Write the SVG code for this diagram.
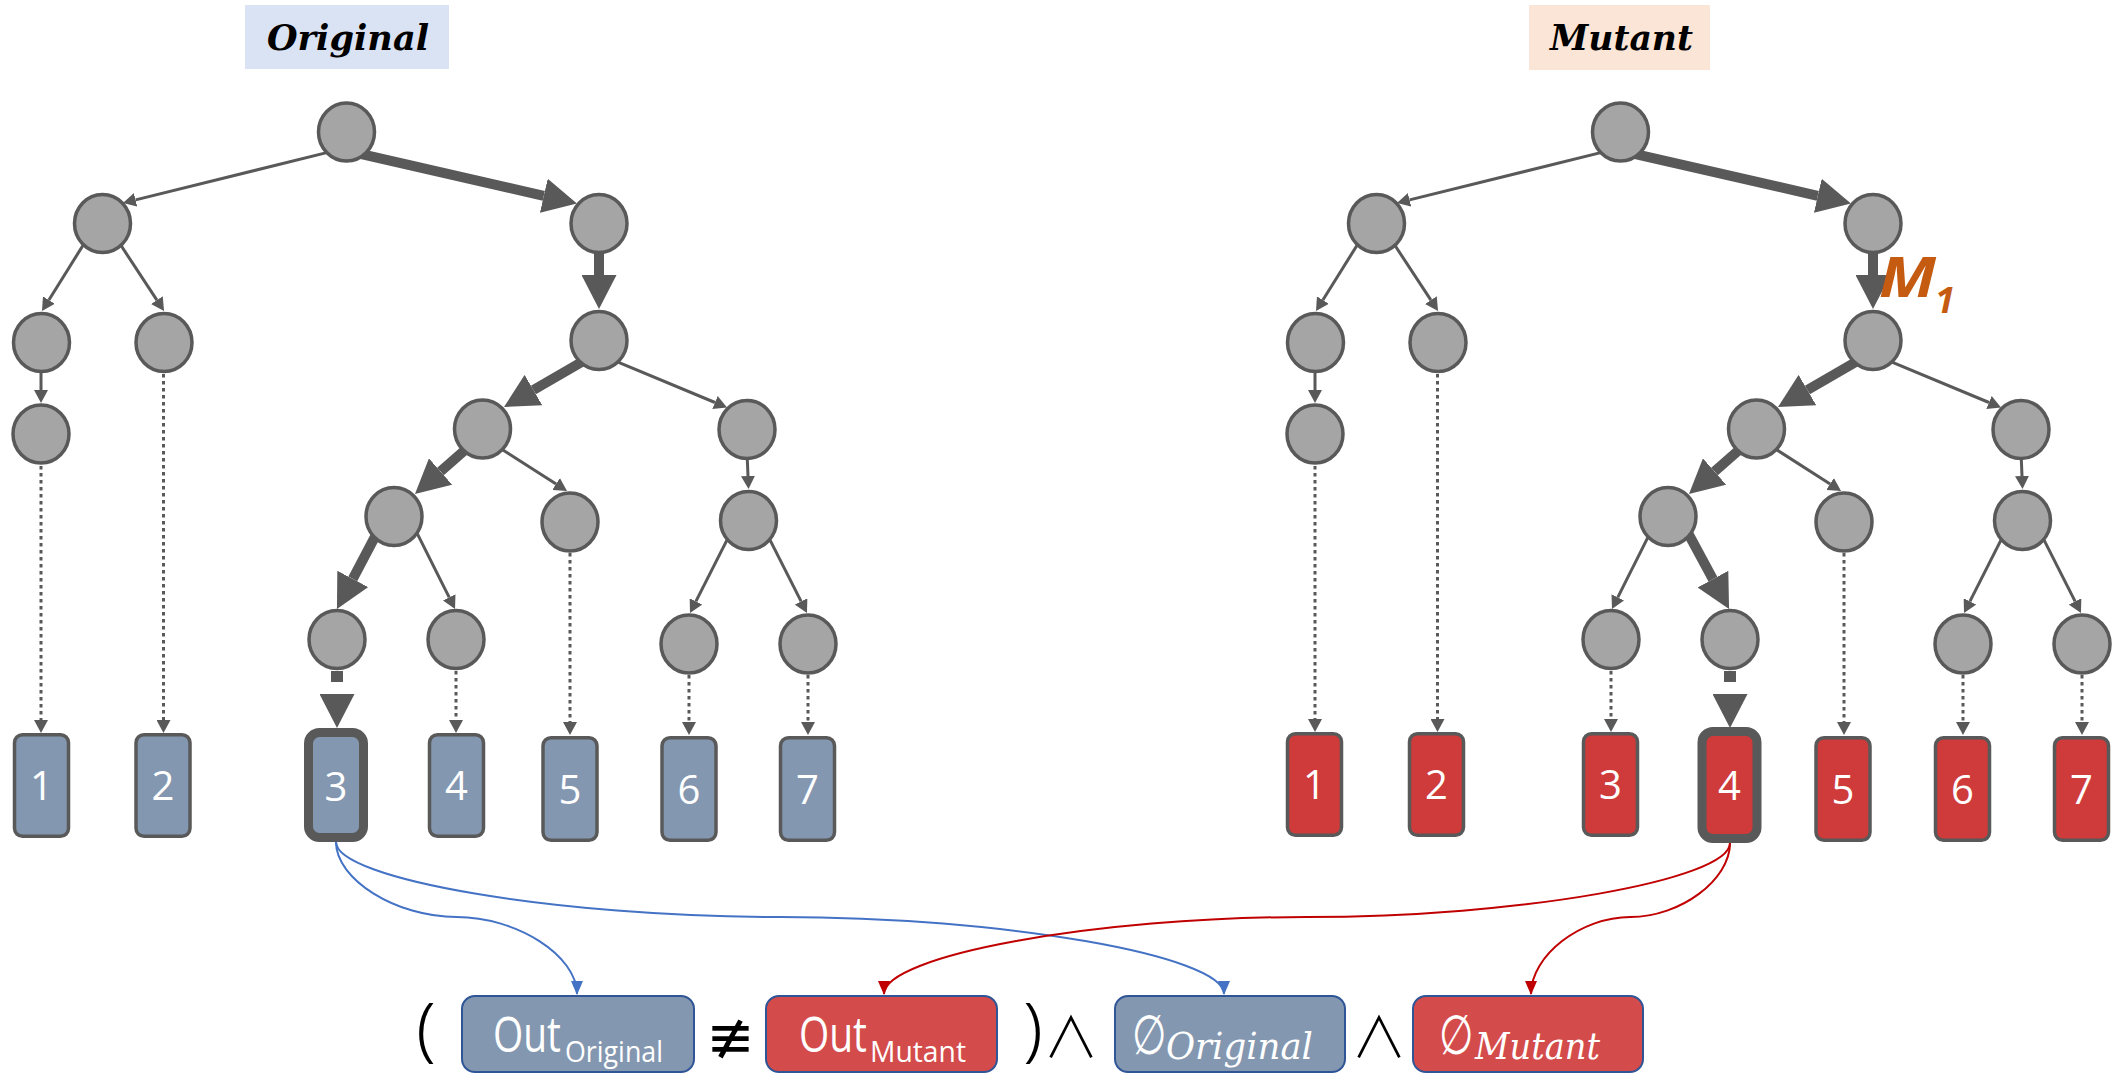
<svg xmlns="http://www.w3.org/2000/svg" width="2115" height="1077" viewBox="0 0 2115 1077">
  <defs>
    <style>
      .node ellipse { fill: #A5A5A5; stroke: #595959; stroke-width: 3.5; }
      .leaf rect { stroke: #595959; stroke-width: 3.5; }
      .leaf.orig rect { fill: #8497B0; }
      .leaf.mut rect { fill: #CF3B3B; }
      .leaf.sel rect { stroke-width: 9; }
      .leaf text { font-family: "Open Sans", "Noto Sans", sans-serif; font-size: 40px; fill: #FFFFFF; text-anchor: middle; }
      .thin { fill: none; stroke: #595959; stroke-width: 3; marker-end: url(#ah); }
      .dot { fill: none; stroke: #595959; stroke-width: 3; stroke-dasharray: 3.5 3.5; marker-end: url(#ah); }
      .thick { fill: none; stroke: #595959; stroke-width: 10; marker-end: url(#ahT); }
      .tdash { fill: none; stroke: #595959; stroke-width: 12; stroke-dasharray: 11 12; marker-end: url(#ahT); }
      .cblue { fill: none; stroke: #4472C4; stroke-width: 2; marker-end: url(#ahB); }
      .cred { fill: none; stroke: #C00000; stroke-width: 2; marker-end: url(#ahR); }
      .title { font-family: "DejaVu Serif", "Liberation Serif", serif; font-weight: bold; font-style: italic; font-size: 36px; fill: #000000; }
      .box rect { stroke: #2F5597; stroke-width: 2; }
      .box.orig rect { fill: #8497B0; }
      .box.mut rect { fill: #D44B4B; }
      .sans { font-family: "Open Sans", "Noto Sans", sans-serif; fill: #FFFFFF; }
      .ital { font-family: "DejaVu Serif", "Liberation Serif", serif; font-style: italic; fill: #FFFFFF; }
      .empty { font-family: "DejaVu Sans", sans-serif; font-size: 55px; fill: #FFFFFF; }
      .op { font-family: "DejaVu Sans", sans-serif; fill: #000000; text-anchor: middle; }
      .and { font-family: "Noto Sans CJK SC", "DejaVu Sans", sans-serif; font-weight: 300; font-size: 56px; fill: #000000; text-anchor: middle; }
      .paren { font-family: "Noto Sans", "DejaVu Sans", sans-serif; font-weight: 300; font-size: 70px; fill: #000000; text-anchor: middle; }
    </style>
    <marker id="ah" markerUnits="userSpaceOnUse" viewBox="0 0 13 14" markerWidth="13" markerHeight="14" refX="0" refY="7" orient="auto">
      <path d="M0,0 L13,7 L0,14 z" fill="#595959"/>
    </marker>
    <marker id="ahT" markerUnits="userSpaceOnUse" viewBox="0 0 34 35" markerWidth="34" markerHeight="35" refX="0" refY="17.5" orient="auto">
      <path d="M0,0 L34,17.5 L0,35 z" fill="#595959"/>
    </marker>
    <marker id="ahB" markerUnits="userSpaceOnUse" viewBox="0 0 14 12" markerWidth="14" markerHeight="12" refX="13" refY="6" orient="auto">
      <path d="M0,0 L14,6 L0,12 z" fill="#4472C4"/>
    </marker>
    <marker id="ahR" markerUnits="userSpaceOnUse" viewBox="0 0 14 12" markerWidth="14" markerHeight="12" refX="13" refY="6" orient="auto">
      <path d="M0,0 L14,6 L0,12 z" fill="#C00000"/>
    </marker>
  </defs>

  <rect x="0" y="0" width="2115" height="1077" fill="#FFFFFF"/>

  <!-- headings -->
  <g id="title-original">
    <rect x="245" y="5" width="204" height="64" fill="#DAE3F3"/>
    <text class="title" x="267" y="50" textLength="162" lengthAdjust="spacingAndGlyphs">Original</text>
  </g>
  <g id="title-mutant">
    <rect x="1529" y="5" width="181" height="65" fill="#FBE5D6"/>
    <text class="title" x="1550" y="50" textLength="143" lengthAdjust="spacingAndGlyphs">Mutant</text>
  </g>

  <!-- connectors -->
  <g id="connectors">
    <g id="conn-original">
      <line class="thin" x1="332.8" y1="151.1" x2="135.6" y2="199.9"/>
      <line class="thick" x1="358.2" y1="153.3" x2="543.8" y2="195.8"/>
      <line class="thick" x1="599" y1="246" x2="599" y2="275"/>
      <line class="thick" x1="586.9" y1="359" x2="533.4" y2="390"/>
      <line class="thin" x1="612.6" y1="359.9" x2="715" y2="402.5"/>
      <line class="thin" x1="86.2" y1="240.2" x2="48.9" y2="300"/>
      <line class="thin" x1="117.6" y1="240.3" x2="156.9" y2="300.1"/>
      <line class="thin" x1="41" y1="366" x2="41" y2="390"/>
      <line class="dot" x1="163.5" y1="374" x2="163.5" y2="720"/>
      <line class="dot" x1="41" y1="466" x2="41" y2="720"/>
      <line class="thick" x1="471" y1="444.7" x2="440.5" y2="471.5"/>
      <line class="thin" x1="496.3" y1="445.7" x2="556.1" y2="484"/>
      <line class="thin" x1="747" y1="452" x2="748" y2="476"/>
      <line class="thick" x1="380.7" y1="525.9" x2="352.8" y2="578.9"/>
      <line class="thin" x1="413.4" y1="525.8" x2="449.2" y2="597.4"/>
      <line class="dot" x1="570" y1="553" x2="570" y2="722"/>
      <line class="thin" x1="730.6" y1="532.9" x2="695.9" y2="601.4"/>
      <line class="thin" x1="766.4" y1="532.9" x2="801.1" y2="601.4"/>
      <line class="tdash" x1="337" y1="671" x2="337" y2="694"/>
      <line class="dot" x1="456" y1="671" x2="456" y2="720"/>
      <line class="dot" x1="689" y1="675" x2="689" y2="722"/>
      <line class="dot" x1="808" y1="675" x2="808" y2="722"/>
    </g>
    <g id="conn-mutant" transform="translate(1274,0)">
      <line class="thin" x1="332.8" y1="151.1" x2="135.6" y2="199.9"/>
      <line class="thick" x1="358.2" y1="153.3" x2="543.8" y2="195.8"/>
      <line class="thick" x1="599" y1="246" x2="599" y2="275"/>
      <line class="thick" x1="586.9" y1="359" x2="533.4" y2="390"/>
      <line class="thin" x1="612.6" y1="359.9" x2="715" y2="402.5"/>
      <line class="thin" x1="86.2" y1="240.2" x2="48.9" y2="300"/>
      <line class="thin" x1="117.6" y1="240.3" x2="156.9" y2="300.1"/>
      <line class="thin" x1="41" y1="366" x2="41" y2="390"/>
      <line class="dot" x1="163.5" y1="374" x2="163.5" y2="719"/>
      <line class="dot" x1="41" y1="466" x2="41" y2="719"/>
      <line class="thick" x1="471" y1="444.7" x2="440.5" y2="471.5"/>
      <line class="thin" x1="496.3" y1="445.7" x2="556.1" y2="484"/>
      <line class="thin" x1="747" y1="452" x2="748" y2="476"/>
      <line class="thin" x1="379.6" y1="525.8" x2="343.8" y2="597.4"/>
      <line class="thick" x1="410.2" y1="526" x2="438.9" y2="579.1"/>
      <line class="dot" x1="570" y1="553" x2="570" y2="722"/>
      <line class="thin" x1="730.6" y1="532.9" x2="695.9" y2="601.4"/>
      <line class="thin" x1="766.4" y1="532.9" x2="801.1" y2="601.4"/>
      <line class="dot" x1="337" y1="671" x2="337" y2="719"/>
      <line class="tdash" x1="456" y1="671" x2="456" y2="694"/>
      <line class="dot" x1="689" y1="675" x2="689" y2="722"/>
      <line class="dot" x1="808" y1="675" x2="808" y2="722"/>
    </g>
    <g id="conn-formula">
      <path class="cblue" d="M336,842 C336,879.5 396.25,917 456.5,917 C516.75,917 577,955.5 577,994"/>
      <path class="cblue" d="M336,842 C336,879.5 558,917 780,917 C1002,917 1224,955.5 1224,994"/>
      <path class="cred" d="M1730,843 C1730,880 1518.5,917 1307,917 C1095.5,917 884,955.5 884,994"/>
      <path class="cred" d="M1730,843 C1730,880 1680.25,917 1630.5,917 C1580.75,917 1531,955.5 1531,994"/>
    </g>
  </g>

  <!-- original execution tree -->
  <g id="tree-original">
    <g id="o-n0" class="node"><ellipse cx="346.5" cy="132" rx="28" ry="29"/></g>
    <g id="o-n1" class="node"><ellipse cx="102.5" cy="223.5" rx="28" ry="29"/></g>
    <g id="o-n2" class="node"><ellipse cx="599" cy="223.5" rx="28" ry="29"/></g>
    <g id="o-n3" class="node"><ellipse cx="41.5" cy="342.5" rx="28" ry="29"/></g>
    <g id="o-n4" class="node"><ellipse cx="164" cy="342.5" rx="28" ry="29"/></g>
    <g id="o-n5" class="node"><ellipse cx="599" cy="340.5" rx="28" ry="29"/></g>
    <g id="o-n6" class="node"><ellipse cx="41" cy="434" rx="28" ry="29"/></g>
    <g id="o-n7" class="node"><ellipse cx="482.5" cy="429" rx="28" ry="29"/></g>
    <g id="o-n8" class="node"><ellipse cx="747" cy="429.5" rx="28" ry="29"/></g>
    <g id="o-n9" class="node"><ellipse cx="394" cy="516.5" rx="28" ry="29"/></g>
    <g id="o-n10" class="node"><ellipse cx="570" cy="522" rx="28" ry="29"/></g>
    <g id="o-n11" class="node"><ellipse cx="748.5" cy="520.5" rx="28" ry="29"/></g>
    <g id="o-n12" class="node"><ellipse cx="337" cy="639.5" rx="28" ry="29"/></g>
    <g id="o-n13" class="node"><ellipse cx="456" cy="639.5" rx="28" ry="29"/></g>
    <g id="o-n14" class="node"><ellipse cx="689" cy="644" rx="28" ry="29"/></g>
    <g id="o-n15" class="node"><ellipse cx="808" cy="644" rx="28" ry="29"/></g>

    <g id="o-out1" class="leaf orig"><rect x="14.5" y="734.75" width="54" height="101.5" rx="8"/><text x="41.5" y="800">1</text></g>
    <g id="o-out2" class="leaf orig"><rect x="136" y="734.75" width="54" height="101.5" rx="8"/><text x="163" y="800">2</text></g>
    <g id="o-out3" class="leaf orig sel"><rect x="308.5" y="732.5" width="55" height="105" rx="11"/><text x="336" y="801">3</text></g>
    <g id="o-out4" class="leaf orig"><rect x="429.5" y="734.75" width="54" height="101.5" rx="8"/><text x="456.5" y="800">4</text></g>
    <g id="o-out5" class="leaf orig"><rect x="543" y="737.75" width="54" height="102.5" rx="8"/><text x="570" y="804">5</text></g>
    <g id="o-out6" class="leaf orig"><rect x="662" y="737.75" width="54" height="102.5" rx="8"/><text x="689" y="804">6</text></g>
    <g id="o-out7" class="leaf orig"><rect x="780.5" y="737.75" width="54" height="102.5" rx="8"/><text x="807.5" y="804">7</text></g>
  </g>

  <!-- mutant execution tree (same shape, shifted right) -->
  <g id="tree-mutant" transform="translate(1274,0)">
    <g id="m-n0" class="node"><ellipse cx="346.5" cy="132" rx="28" ry="29"/></g>
    <g id="m-n1" class="node"><ellipse cx="102.5" cy="223.5" rx="28" ry="29"/></g>
    <g id="m-n2" class="node"><ellipse cx="599" cy="223.5" rx="28" ry="29"/></g>
    <g id="m-n3" class="node"><ellipse cx="41.5" cy="342.5" rx="28" ry="29"/></g>
    <g id="m-n4" class="node"><ellipse cx="164" cy="342.5" rx="28" ry="29"/></g>
    <g id="m-n5" class="node"><ellipse cx="599" cy="340.5" rx="28" ry="29"/></g>
    <g id="m-n6" class="node"><ellipse cx="41" cy="434" rx="28" ry="29"/></g>
    <g id="m-n7" class="node"><ellipse cx="482.5" cy="429" rx="28" ry="29"/></g>
    <g id="m-n8" class="node"><ellipse cx="747" cy="429.5" rx="28" ry="29"/></g>
    <g id="m-n9" class="node"><ellipse cx="394" cy="516.5" rx="28" ry="29"/></g>
    <g id="m-n10" class="node"><ellipse cx="570" cy="522" rx="28" ry="29"/></g>
    <g id="m-n11" class="node"><ellipse cx="748.5" cy="520.5" rx="28" ry="29"/></g>
    <g id="m-n12" class="node"><ellipse cx="337" cy="639.5" rx="28" ry="29"/></g>
    <g id="m-n13" class="node"><ellipse cx="456" cy="639.5" rx="28" ry="29"/></g>
    <g id="m-n14" class="node"><ellipse cx="689" cy="644" rx="28" ry="29"/></g>
    <g id="m-n15" class="node"><ellipse cx="808" cy="644" rx="28" ry="29"/></g>

    <g id="m-out1" class="leaf mut"><rect x="13.5" y="733.75" width="54" height="101.5" rx="8"/><text x="40.5" y="799">1</text></g>
    <g id="m-out2" class="leaf mut"><rect x="135.5" y="733.75" width="54" height="101.5" rx="8"/><text x="162.5" y="799">2</text></g>
    <g id="m-out3" class="leaf mut"><rect x="309.5" y="733.75" width="54" height="101.5" rx="8"/><text x="336.5" y="799">3</text></g>
    <g id="m-out4" class="leaf mut sel"><rect x="428" y="731.5" width="55" height="107" rx="11"/><text x="455.5" y="800">4</text></g>
    <g id="m-out5" class="leaf mut"><rect x="542" y="737.75" width="54" height="102.5" rx="8"/><text x="569" y="804">5</text></g>
    <g id="m-out6" class="leaf mut"><rect x="661.5" y="737.75" width="54" height="102.5" rx="8"/><text x="688.5" y="804">6</text></g>
    <g id="m-out7" class="leaf mut"><rect x="780.5" y="737.75" width="54" height="102.5" rx="8"/><text x="807.5" y="804">7</text></g>
  </g>

  <!-- mutation marker -->
  <g id="label-m1" font-family="Open Sans, Noto Sans, sans-serif" font-weight="bold" font-style="italic" fill="#C55A11">
    <text x="1879" y="297" font-size="56" textLength="57" lengthAdjust="spacingAndGlyphs">M</text>
    <text x="1935" y="313" font-size="36">1</text>
  </g>

  <!-- output condition -->
  <g id="formula">
    <text class="paren" x="426" y="1053">(</text>
    <g id="box-out-original" class="box orig">
      <rect x="462" y="996" width="232" height="76" rx="13"/>
      <text class="sans"><tspan x="493" y="1052" font-size="50" textLength="68" lengthAdjust="spacingAndGlyphs">Out</tspan><tspan x="565" y="1062" font-size="30" textLength="98" lengthAdjust="spacingAndGlyphs">Original</tspan></text>
    </g>
    <text class="op" x="730.5" y="1057" font-size="58">≢</text>
    <g id="box-out-mutant" class="box mut">
      <rect x="766" y="996" width="231" height="76" rx="13"/>
      <text class="sans"><tspan x="799" y="1052" font-size="50" textLength="68" lengthAdjust="spacingAndGlyphs">Out</tspan><tspan x="870" y="1062" font-size="30" textLength="96" lengthAdjust="spacingAndGlyphs">Mutant</tspan></text>
    </g>
    <text class="paren" x="1033" y="1053">)</text>
    <text class="and" x="1071" y="1057">∧</text>
    <g id="box-empty-original" class="box orig">
      <rect x="1115" y="996" width="230" height="76" rx="13"/>
      <text class="empty" transform="translate(1132,1054) scale(0.72,1)">∅</text>
      <text class="ital" x="1166" y="1059" font-size="37" textLength="147" lengthAdjust="spacingAndGlyphs">Original</text>
    </g>
    <text class="and" x="1379" y="1057">∧</text>
    <g id="box-empty-mutant" class="box mut">
      <rect x="1413" y="996" width="230" height="76" rx="13"/>
      <text class="empty" transform="translate(1439,1054) scale(0.72,1)">∅</text>
      <text class="ital" x="1475" y="1059" font-size="37" textLength="125" lengthAdjust="spacingAndGlyphs">Mutant</text>
    </g>
  </g>
</svg>
